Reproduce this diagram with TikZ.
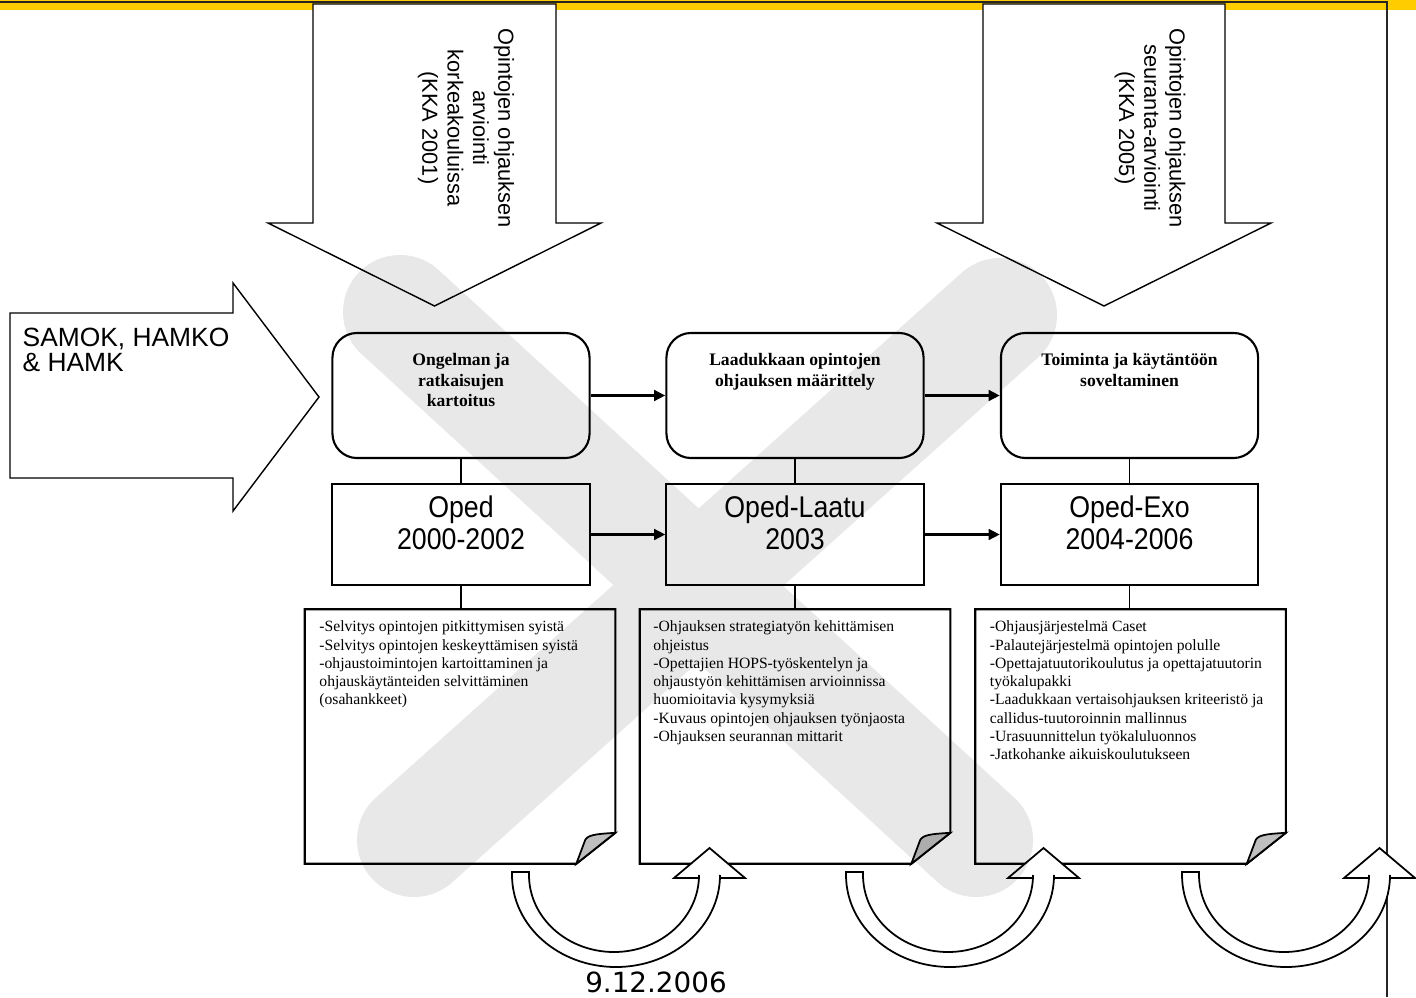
\documentclass[tikz,border=0pt]{standalone}
\usepackage{fontspec}
\setmainfont{Liberation Serif}
\newfontfamily\lsans{Liberation Sans}
\newfontfamily\lserif{Liberation Serif}
\newfontfamily\dvsans{DejaVu Sans}
\usetikzlibrary{positioning,arrows.meta}
\definecolor{barYellow}{HTML}{FFCC00}

\begin{document}
\begin{tikzpicture}[x=0.01cm,y=-0.01cm]
% Define the node styles
\tikzstyle{phase} = [draw, rectangle, rounded corners=7pt, line width=0.6pt, minimum width=2.57cm, minimum height=1.25cm]
\tikzstyle{project} = [draw, rectangle, line width=0.6pt, minimum width=2.57cm, minimum height=1.01cm]
\tikzstyle{result} = [rectangle, minimum width=3.09cm, minimum height=2.53cm]
\tikzstyle{headtext} = [inner sep=0pt, align=center, font=\lserif\bfseries\fontsize{5}{5.8}\selectfont]
\tikzstyle{projtext} = [inner sep=0pt, align=center, yscale=1.12, font=\lsans\fontsize{7.6}{8.1}\selectfont]
\tikzstyle{listtext} = [inner sep=0pt, align=left, font=\lserif\fontsize{4.45}{5.2}\selectfont]
\tikzstyle{sidetext} = [inner sep=0pt, align=center, font=\lsans\fontsize{6.2}{7.2}\selectfont]
\tikzstyle{blockarrow} = [draw, fill=white, line width=0.4pt]
\tikzstyle{sheet} = [draw, line width=0.6pt]
\tikzstyle{curl} = [draw, fill=black!25, line width=0.5pt]
\tikzstyle{turn} = [draw, fill=white, line width=0.5pt]
\tikzstyle{link} = [line width=0.4pt]
\tikzstyle{flow} = [->, >={Triangle[length=3.2pt,width=3pt]}, line width=1pt]

\useasboundingbox (0,0) rectangle (1416,997);

% Top bar and frame
\fill[barYellow] (0,0) rectangle (1416,10);
\draw[line width=0.5pt, black!85] (0,2) -- (1387,2) -- (1387,997);

% Evaluations coming from above
\draw[blockarrow] (313,4) -- (556,4) -- (556,223) -- (601,223) -- (434.5,306) -- (268,223) -- (313,223) -- cycle;
\node[sidetext, rotate=-90] (review1) at (466,128) {Opintojen ohjauksen\\arviointi\\korkeakouluissa\\(KKA 2001)};
\draw[blockarrow] (983,4) -- (1225,4) -- (1225,223) -- (1271,223) -- (1104,306) -- (937,223) -- (983,223) -- cycle;
\node[sidetext, rotate=-90] (review2) at (1150,128) {Opintojen ohjauksen\\seuranta-arviointi\\(KKA 2005)};

% Partners
\draw[blockarrow] (10,313) -- (233,313) -- (233,283) -- (319,397) -- (233,511) -- (233,478) -- (10,478) -- cycle;
\node[inner sep=0pt, align=left, anchor=north west, font=\lsans\fontsize{7.5}{7.2}\selectfont] (partners) at (22,327) {SAMOK, HAMKO\\\& HAMK};

% Define the nodes
\node[phase] (phase1) at (461,395.5) {};
\node[phase] (phase2) at (795,395.5) {};
\node[phase] (phase3) at (1129.5,395.5) {};
\node[headtext, below=0.21cm of phase1.north] (head1) {Ongelman ja\\ratkaisujen\\kartoitus};
\node[headtext, below=0.21cm of phase2.north] (head2) {Laadukkaan opintojen\\ohjauksen määrittely};
\node[headtext, below=0.21cm of phase3.north] (head3) {Toiminta ja käytäntöön\\soveltaminen};

\node[project] (oped1) at (461,534.5) {};
\node[project] (oped2) at (795,534.5) {};
\node[project] (oped3) at (1129.5,534.5) {};
\node[projtext, below=0.125cm of oped1.north] (name1) {Oped\\2000-2002};
\node[projtext, below=0.125cm of oped2.north] (name2) {Oped-Laatu\\2003};
\node[projtext, below=0.125cm of oped3.north] (name3) {Oped-Exo\\2004-2006};

\node[result] (result1) at (460,736.5) {};
\node[result] (result2) at (795,736.5) {};
\node[result] (result3) at (1130.5,736.5) {};

% Result sheets with folded corner
\draw[sheet] (result1.north west) -- (result1.north east) -- ([yshift=0.31cm]result1.south east) -- ([xshift=-0.39cm]result1.south east) -- (result1.south west) -- cycle;
\draw[curl] ([xshift=-0.39cm]result1.south east) -- ([xshift=-0.3cm,yshift=0.24cm]result1.south east) .. controls ([xshift=-0.27cm,yshift=0.3cm]result1.south east) and ([xshift=-0.12cm,yshift=0.3cm]result1.south east) .. ([yshift=0.31cm]result1.south east) -- cycle;
\draw[sheet] (result2.north west) -- (result2.north east) -- ([yshift=0.31cm]result2.south east) -- ([xshift=-0.39cm]result2.south east) -- (result2.south west) -- cycle;
\draw[curl] ([xshift=-0.39cm]result2.south east) -- ([xshift=-0.3cm,yshift=0.24cm]result2.south east) .. controls ([xshift=-0.27cm,yshift=0.3cm]result2.south east) and ([xshift=-0.12cm,yshift=0.3cm]result2.south east) .. ([yshift=0.31cm]result2.south east) -- cycle;
\draw[sheet] (result3.north west) -- (result3.north east) -- ([yshift=0.31cm]result3.south east) -- ([xshift=-0.39cm]result3.south east) -- (result3.south west) -- cycle;
\draw[curl] ([xshift=-0.39cm]result3.south east) -- ([xshift=-0.3cm,yshift=0.24cm]result3.south east) .. controls ([xshift=-0.27cm,yshift=0.3cm]result3.south east) and ([xshift=-0.12cm,yshift=0.3cm]result3.south east) .. ([yshift=0.31cm]result3.south east) -- cycle;

\node[listtext, below right=0.11cm and 0.14cm of result1.north west] (list1) {-Selvitys opintojen pitkittymisen syistä\\-Selvitys opintojen keskeyttämisen syistä\\-ohjaustoimintojen kartoittaminen ja\\ohjauskäytänteiden selvittäminen\\(osahankkeet)};
\node[listtext, below right=0.11cm and 0.13cm of result2.north west] (list2) {-Ohjauksen strategiatyön kehittämisen\\ohjeistus\\-Opettajien HOPS-työskentelyn ja\\ohjaustyön kehittämisen arvioinnissa\\huomioitavia kysymyksiä\\-Kuvaus opintojen ohjauksen työnjaosta\\-Ohjauksen seurannan mittarit};
\node[listtext, below right=0.11cm and 0.14cm of result3.north west] (list3) {-Ohjausjärjestelmä Caset\\-Palautejärjestelmä opintojen polulle\\-Opettajatuutorikoulutus ja opettajatuutorin\\työkalupakki\\-Laadukkaan vertaisohjauksen kriteeristö ja\\callidus-tuutoroinnin mallinnus\\-Urasuunnittelun työkaluluonnos\\-Jatkohanke aikuiskoulutukseen};

% Define the transitions
\draw[flow] (phase1) -- (phase2);
\draw[flow] (phase2) -- (phase3);
\draw[flow] (oped1) -- (oped2);
\draw[flow] (oped2) -- (oped3);

\draw[link] (phase1) -- (oped1);
\draw[link] (phase2) -- (oped2);
\draw[link] (phase3) -- (oped3);
\draw[link] (oped1.south) -- (oped1.south |- result1.north);
\draw[link] (oped2.south) -- (oped2.south |- result2.north);
\draw[link] (oped3.south) -- (oped3.south |- result3.north);

% Turning arrows under the sheets
\draw[turn] (512,872) -- (529,872) -- (529,875) arc[start angle=180, end angle=0, x radius=85, y radius=77] -- (699,878) -- (674,878) -- (709.5,848) -- (745,878) -- (720,878) -- (720,875) arc[start angle=0, end angle=180, x radius=104, y radius=92] -- cycle;
\draw[turn] (846,872) -- (863,872) -- (863,875) arc[start angle=180, end angle=0, x radius=85, y radius=77] -- (1033,878) -- (1008,878) -- (1043.5,848) -- (1079,878) -- (1054,878) -- (1054,875) arc[start angle=0, end angle=180, x radius=104, y radius=92] -- cycle;
\draw[turn] (1182,872) -- (1199,872) -- (1199,875) arc[start angle=180, end angle=0, x radius=85, y radius=77] -- (1369,878) -- (1344,878) -- (1379.5,848) -- (1415,878) -- (1390,878) -- (1390,875) arc[start angle=0, end angle=180, x radius=104, y radius=92] -- cycle;

\node[inner sep=0pt, font=\dvsans\fontsize{7.9}{9}\selectfont] (date) at (656,982) {9.12.2006};

% Faint logo in the background
\begin{scope}[transparency group, opacity=0.09]
\draw[line width=1.14cm, line cap=round] (400,312) -- (976,840);
\draw[line width=1.14cm, line cap=round] (1000,315) -- (414,840);
\end{scope}
\end{tikzpicture}
\end{document}
